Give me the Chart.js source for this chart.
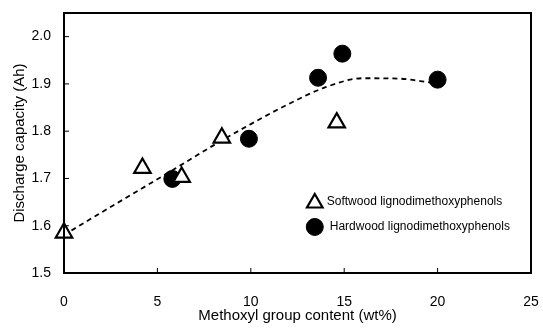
<!DOCTYPE html>
<html>
<head>
<meta charset="utf-8">
<script src="https://cdn.jsdelivr.net/npm/chart.js@4.4.1/dist/chart.umd.min.js"></script>
<style>
html,body{margin:0;padding:0;background:#fff;}
#wrap{width:543px;height:328px;position:relative;}
</style>
</head>
<body>
<div id="wrap"><canvas id="c" width="543" height="328"></canvas></div>
<script>
// ---- data ----
const softX = [0, 4.2, 6.3, 8.45, 14.6];
const softY = [1.585, 1.722, 1.703, 1.786, 1.818];
const hardX = [5.8, 9.9, 13.6, 14.9, 20.0];
const hardY = [1.699, 1.784, 1.913, 1.964, 1.909];
const trendX = [0.4, 2, 4, 6, 8, 10, 12, 14, 16, 18, 19.6];
const trendY = [1.59, 1.628, 1.675, 1.722, 1.77, 1.815, 1.857, 1.893, 1.912, 1.911, 1.903];
const xTicks = [0, 5, 10, 15, 20, 25];
const yTicks = [1.5, 1.6, 1.7, 1.8, 1.9, 2.0];
const legendLabels = ['Softwood lignodimethoxyphenols', 'Hardwood lignodimethoxyphenols'];
const xTitle = 'Methoxyl group content (wt%)';
const yTitle = 'Discharge capacity (Ah)';

const pts = (xs, ys) => xs.map((x, i) => ({x: x, y: ys[i]}));
const FONT = '"Liberation Sans", Arial, sans-serif';

const framePlugin = {
  id: 'frame',
  afterDatasetsDraw(chart) {
    const ctx = chart.ctx, a = chart.chartArea;
    const xs = chart.scales.x, ys = chart.scales.y;
    ctx.save();
    ctx.strokeStyle = '#000';
    ctx.lineWidth = 2;
    ctx.strokeRect(a.left, a.top, a.right - a.left, a.bottom - a.top);
    ctx.lineWidth = 1;
    ctx.beginPath();
    xs.ticks.forEach(t => {
      const px = xs.getPixelForValue(t.value);
      ctx.moveTo(px, a.bottom); ctx.lineTo(px, a.bottom - 5);
    });
    ys.ticks.forEach(t => {
      const py = ys.getPixelForValue(t.value);
      ctx.moveTo(a.left, py); ctx.lineTo(a.left + 5, py);
    });
    ctx.stroke();
    // legend
    const lx = a.left + (a.right - a.left) * 0.537;
    const ly = [a.top + (a.bottom - a.top) * 0.727, a.top + (a.bottom - a.top) * 0.823];
    const styles = [
      {pointStyle: 'triangle', radius: 9, borderWidth: 2.2, fill: '#fff'},
      {pointStyle: 'circle', radius: 8.5, borderWidth: 1, fill: '#000'}
    ];
    ctx.font = '12px ' + FONT;
    ctx.textBaseline = 'middle';
    ctx.textAlign = 'left';
    legendLabels.forEach((lab, i) => {
      ctx.fillStyle = styles[i].fill;
      ctx.strokeStyle = '#000';
      ctx.lineWidth = styles[i].borderWidth;
      Chart.helpers.drawPoint(ctx, {pointStyle: styles[i].pointStyle, radius: styles[i].radius, borderWidth: styles[i].borderWidth, rotation: 0}, lx, ly[i] + (i === 0 ? 1 : 0));
      ctx.fillStyle = '#000';
      ctx.fillText(lab, lx + 12 + (i === 1 ? 3 : 0), ly[i]);
    });
    ctx.restore();
  }
};

new Chart(document.getElementById('c'), {
  type: 'scatter',
  data: {
    datasets: [
      {
        label: 'trend',
        data: pts(trendX, trendY),
        showLine: true,
        borderColor: '#000',
        borderWidth: 1.8,
        borderDash: [5, 4],
        pointRadius: 0,
        cubicInterpolationMode: 'monotone',
        fill: false,
        clip: false,
        order: 3
      },
      {
        label: legendLabels[0],
        data: pts(softX, softY),
        pointStyle: 'triangle',
        pointRadius: 9.5,
        pointBorderWidth: 2.2,
        pointBackgroundColor: '#fff',
        pointBorderColor: '#000',
        clip: false,
        order: 1
      },
      {
        label: legendLabels[1],
        data: pts(hardX, hardY),
        pointStyle: 'circle',
        pointRadius: 8.5,
        pointBorderWidth: 1,
        pointBackgroundColor: '#000',
        pointBorderColor: '#000',
        clip: false,
        order: 2
      }
    ]
  },
  options: {
    responsive: false,
    animation: false,
    layout: {padding: {left: 0, top: 13, right: 12, bottom: 0}},
    plugins: {legend: {display: false}, tooltip: {enabled: false}},
    scales: {
      x: {
        type: 'linear',
        min: 0, max: 25,
        afterBuildTicks: s => { s.ticks = xTicks.map(v => ({value: v})); },
        afterFit: s => { s.height = 55; s.paddingLeft = 0; s.paddingRight = 0; },
        grid: {display: false, drawTicks: false},
        border: {display: true, color: '#000', width: 2},
        ticks: {padding: 21, color: '#000', font: {family: FONT, size: 14}, callback: v => String(v), maxRotation: 0},
        title: {display: true, text: xTitle, color: '#000', font: {family: FONT, size: 15}, padding: {top: 0, bottom: 3}}
      },
      y: {
        type: 'linear',
        min: 1.5, max: 2.05,
        afterBuildTicks: s => { s.ticks = yTicks.map(v => ({value: v})); },
        afterFit: s => { s.width = 64; s.paddingTop = 0; s.paddingBottom = 0; },
        grid: {display: false, drawTicks: false},
        border: {display: true, color: '#000', width: 2},
        ticks: {padding: 13, color: '#000', font: {family: FONT, size: 14}, callback: v => Number(v).toFixed(1)},
        title: {display: true, text: yTitle, color: '#000', font: {family: FONT, size: 15}, padding: {top: 11, bottom: 0}}
      }
    }
  },
  plugins: [framePlugin]
});
</script>
</body>
</html>
